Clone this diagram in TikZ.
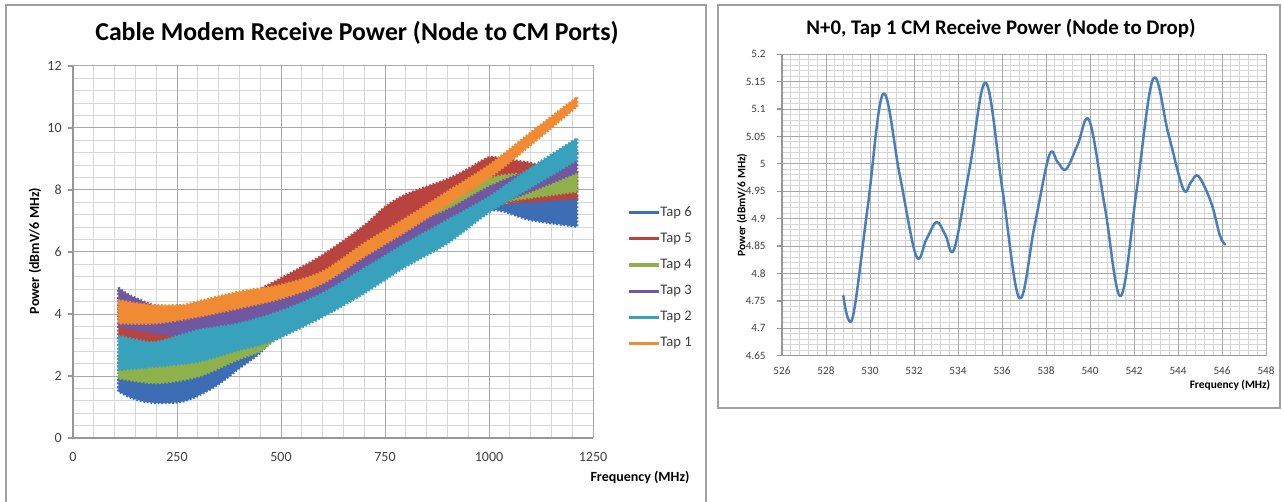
\documentclass[tikz,border=0pt]{standalone}
\usepackage{fontspec}
\setmainfont{Carlito}
\usetikzlibrary{calc}
\definecolor{cblue}{HTML}{3D6DB5}
\definecolor{cred}{HTML}{B8433F}
\definecolor{cgreen}{HTML}{8FB14C}
\definecolor{cpurple}{HTML}{7156A0}
\definecolor{cteal}{HTML}{38A1BB}
\definecolor{corange}{HTML}{F08A33}
\definecolor{cline}{HTML}{4A7EBB}
\definecolor{gmin}{HTML}{D6D6D6}
\definecolor{gmaj}{HTML}{A8A8A8}
\definecolor{txt}{HTML}{404040}
\definecolor{pborder}{HTML}{A0A0A0}
\tikzset{
  gridminor/.style={draw=gmin, line width=0.5pt},
  gridmajor/.style={draw=gmaj, line width=0.5pt},
  axisline/.style={draw=gmaj!90!black, line width=0.6pt},
  panel/.style={draw=pborder, line width=0.8pt},
  band/.style={fill=#1, draw=#1, line width=1.2pt, dash pattern=on 0.9pt off 0.9pt, line join=miter},
  title1/.style={font=\bfseries\fontsize{12.9}{15}\selectfont, text=black, inner sep=0pt},
  title2/.style={font=\bfseries\fontsize{10.4}{12}\selectfont, text=black, inner sep=0pt},
  tick1/.style={font=\fontsize{7}{8}\selectfont, text=txt, inner sep=0pt},
  tick2/.style={font=\fontsize{5.6}{6.5}\selectfont, text=txt, inner sep=0pt},
  axlab1/.style={font=\bfseries\fontsize{7}{8}\selectfont, text=black, inner sep=0pt},
  axlab2/.style={font=\bfseries\fontsize{5.7}{6.5}\selectfont, text=black, inner sep=0pt},
  legtext/.style={font=\fontsize{7.3}{8}\selectfont, text=txt, inner sep=0.5pt, anchor=west},
  legline/.style={line width=1.5pt},
  curve/.style={draw=cline, line width=1.25pt, line cap=round, line join=round}
}
\begin{document}
\begin{tikzpicture}[x=0.5pt,y=-0.5pt]
\useasboundingbox (0,0) rectangle (1284,502);
\fill[white] (0,0) rectangle (1284,502);

% panels
\draw[panel] (6,503) -- (6,5) -- (706,5) -- (706,503);
\draw[panel] (718,5) rectangle (1280,408);

% ---------------- left chart ----------------
\node[title1] (title1) at (357,33) {Cable Modem Receive Power (Node to CM Ports)};

\foreach \i in {0,...,25} \draw[gridminor] ({73+\i*20.8},65) -- ({73+\i*20.8},438);
\foreach \j in {0,...,30} \draw[gridminor] (73,{438-\j*12.4}) -- (593,{438-\j*12.4});
\foreach \i in {1,...,5} \draw[gridmajor] ({73+\i*104},65) -- ({73+\i*104},438);
\foreach \j in {1,...,6} \draw[gridmajor] (73,{438-\j*62}) -- (593,{438-\j*62});
\draw[axisline] (73,65) -- (73,438) -- (593,438);
\foreach \j in {0,...,6} \draw[axisline] (68,{438-\j*62}) -- (73,{438-\j*62});

\foreach \v [count=\j from 0] in {0,2,4,6,8,10,12}
  \node[tick1, anchor=east] (ly\j) at (62,{438-\j*62}) {\v};
\foreach \v [count=\i from 0] in {0,250,500,750,1000,1250}
  \node[tick1] (lx\i) at ({73+\i*104},457) {\v};

\node[axlab1, rotate=90] (ylab1) at (35,251) {Power (dBmV/6 MHz)};
\node[axlab1] (xlab1) at (640,477) {Frequency (MHz)};

\begin{scope}[shift={(73,438)}, x=0.208pt, y=15.5pt]
% Tap 6
\filldraw[band=cblue] plot[smooth] coordinates {(109,2.0) (200,1.87) (300,2.1) (400,2.6) (500,3.55) (600,4.35) (700,5.15) (800,5.95) (900,6.8) (1006,7.45) (1100,7.65) (1212,7.78)}
  -- plot[smooth] coordinates {(1212,6.82) (1100,7.03) (1006,7.35) (900,6.7) (800,5.85) (700,5.05) (600,4.25) (500,3.45) (450,2.75) (400,2.25) (340,1.65) (270,1.2) (200,1.13) (150,1.25) (109,1.5)} -- cycle;
% Tap 5
\filldraw[band=cred] plot[smooth] coordinates {(109,3.7) (200,3.45) (300,3.6) (400,4.35) (450,4.8) (500,5.15) (600,5.9) (700,6.85) (750,7.45) (800,7.85) (900,8.35) (950,8.68) (1000,9.05) (1050,8.97) (1100,8.87) (1150,8.7) (1212,8.5)}
  -- plot[smooth] coordinates {(1212,7.73) (1100,7.62) (1050,7.58) (1000,7.45) (900,7.0) (800,6.3) (700,5.5) (600,4.8) (500,4.1) (400,3.5) (300,3.15) (200,3.05) (109,3.25)} -- cycle;
% Tap 4
\filldraw[band=cgreen] plot[smooth] coordinates {(109,2.6) (200,2.5) (300,2.65) (400,3.0) (500,3.5) (600,4.2) (700,5.0) (800,6.55) (900,7.58) (1000,8.35) (1050,8.5) (1100,8.52) (1212,8.57)}
  -- plot[smooth] coordinates {(1212,7.95) (1100,7.75) (1050,7.65) (1000,7.45) (900,6.5) (800,5.6) (700,4.8) (600,4.0) (500,3.3) (450,2.8) (400,2.55) (300,1.98) (200,1.77) (109,1.93)} -- cycle;
% Tap 3
\filldraw[band=cpurple] plot[smooth] coordinates {(109,4.85) (130,4.65) (150,4.52) (190,4.3) (250,4.15) (300,4.2) (400,4.45) (500,4.75) (600,5.2) (700,6.0) (800,6.8) (900,7.35) (1000,8.1) (1100,8.65) (1212,9.18)}
  -- plot[smooth] coordinates {(1212,8.57) (1100,7.95) (1050,7.7) (1000,7.55) (900,6.9) (800,6.1) (700,5.3) (600,4.5) (500,3.9) (400,3.5) (300,3.3) (200,3.38) (109,3.6)} -- cycle;
% Tap 2
\filldraw[band=cteal] plot[smooth] coordinates {(109,3.3) (150,3.18) (200,3.1) (300,3.48) (400,3.7) (500,4.1) (600,4.67) (700,5.47) (800,6.28) (900,7.03) (1000,7.78) (1100,8.71) (1212,9.67)}
  -- plot[smooth] coordinates {(1212,8.97) (1100,8.08) (1000,7.28) (900,6.28) (800,5.53) (700,4.67) (600,3.91) (500,3.25) (450,3.0) (400,2.84) (300,2.46) (200,2.3) (109,2.19)} -- cycle;
% Tap 1
\filldraw[band=corange] plot[smooth] coordinates {(109,4.45) (150,4.35) (200,4.28) (264,4.29) (300,4.4) (400,4.72) (500,4.94) (600,5.37) (700,6.28) (800,7.09) (900,7.95) (1000,8.8) (1100,9.85) (1212,11.0)}
  -- plot[smooth] coordinates {(1212,10.7) (1100,9.45) (1000,8.38) (900,7.52) (800,6.66) (700,5.85) (600,4.99) (500,4.5) (400,4.19) (300,3.91) (200,3.7) (109,3.7)} -- cycle;
\end{scope}

% legend
\foreach \n/\c [count=\k from 0] in {6/cblue,5/cred,4/cgreen,3/cpurple,2/cteal,1/corange}{
  \node[legtext] (leg\n) at (659,{213+26*\k}) {Tap \n};
  \draw[legline, \c] ($(leg\n.west)+(-30,0)$) -- (leg\n.west);
}

% ---------------- right chart ----------------
\node[title2] (title2) at (1001,28) {N+0, Tap 1 CM Receive Power (Node to Drop)};

\foreach \i in {0,...,55} \draw[gridminor] ({782+\i*8.8},54.3) -- ({782+\i*8.8},355.7);
\foreach \j in {0,...,55} \draw[gridminor] (782,{355.7-\j*5.48}) -- (1266,{355.7-\j*5.48});
\foreach \i in {1,...,11} \draw[gridmajor] ({782+\i*44},54.3) -- ({782+\i*44},355.7);
\foreach \j in {1,...,11} \draw[gridmajor] (782,{355.7-\j*27.4}) -- (1266,{355.7-\j*27.4});
\draw[axisline] (782,54.3) -- (782,355.7) -- (1266,355.7);
\foreach \j in {0,...,11} \draw[axisline] (777,{355.7-\j*27.4}) -- (782,{355.7-\j*27.4});

\foreach \v [count=\j from 0] in {4.65,4.7,4.75,4.8,4.85,4.9,4.95,5,5.05,5.1,5.15,5.2}
  \node[tick2, anchor=east] (ry\j) at (766,{355.7-\j*27.4}) {\v};
\foreach \v [count=\i from 0] in {526,528,530,532,534,536,538,540,542,544,546,548}
  \node[tick2] (rx\i) at ({782+\i*44},371) {\v};

\node[axlab2, rotate=90] (ylab2) at (742,205) {Power (dBmV/6 MHz)};
\node[axlab2] (xlab2) at (1230,385) {Frequency (MHz)};

\begin{scope}[shift={(782,355.7)}, x=11pt, y=274pt, shift={(-526,-4.65)}]
\draw[curve] plot[smooth, tension=0.6] coordinates {
 (528.79,4.759) (529.2,4.718) (529.9,4.923) (530.6,5.128) (531.35,4.98)
 (532.1,4.832) (532.57,4.863) (533.03,4.894) (533.43,4.87) (533.83,4.845)
 (534.55,4.997) (535.27,5.148) (536.03,4.95) (536.79,4.755) (537.47,4.885)
 (538.15,5.016) (538.53,5.003) (538.91,4.99) (539.44,5.035) (539.97,5.079)
 (540.68,4.92) (541.40,4.759) (542.14,4.958) (542.88,5.156) (543.56,5.055)
 (544.24,4.954) (544.58,4.966) (544.92,4.978) (545.5,4.93) (545.9,4.87) (546.14,4.853)};
\end{scope}
\end{tikzpicture}
\end{document}
